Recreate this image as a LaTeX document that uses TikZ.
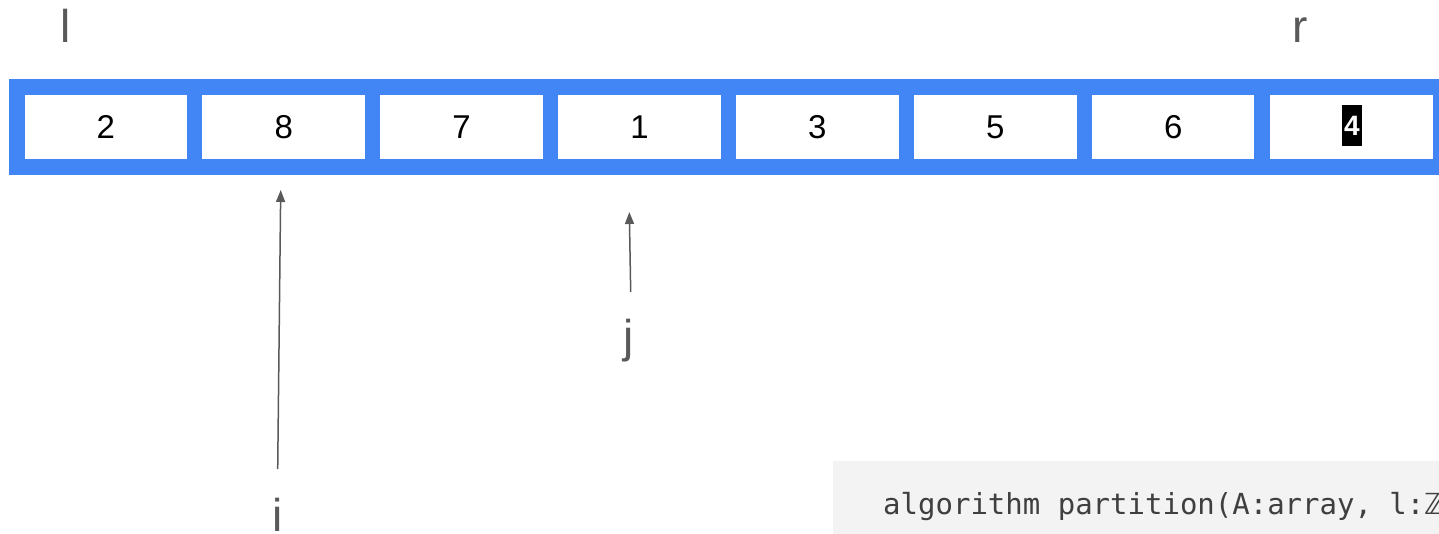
\documentclass[tikz,border=0pt]{standalone}
\usepackage{fontspec}
\setmainfont{Liberation Sans}
\newfontfamily\codefont{DejaVu Sans Mono}
\newfontfamily\symfont{DejaVu Sans}
\usetikzlibrary{arrows.meta}
\definecolor{gblue}{HTML}{4285F4}
\definecolor{lbl}{HTML}{595959}
\definecolor{codebg}{HTML}{F3F3F3}
\definecolor{codefg}{HTML}{3F3F3F}
\begin{document}
\begin{tikzpicture}[x=1pt,y=-1pt,
  cellbox/.style={fill=white, minimum width=162.5pt, minimum height=64pt, inner sep=0pt,
    font=\fontsize{33}{36}\selectfont},
  varlbl/.style={text=lbl, font=\fontsize{46}{50}\selectfont, anchor=base, inner sep=0pt},
  ptr/.style={draw=lbl, line width=1.5pt, -{Triangle[length=12pt,width=9pt]}}]
\useasboundingbox (0,0) rectangle (1439,534);
\fill[white] (0,0) rectangle (1439,534);
% array frame
\fill[gblue] (9,79) rectangle (1439,175);
\foreach \v [count=\k] in {2,8,7,1,3,5,6}
  \node[cellbox] (c\k) at ({105.8+177.9*(\k-1)},127) {\v};
\node[cellbox] (c8) at (1351.3,127) {};
\node[fill=black, text=white, minimum width=20pt, minimum height=41pt, inner sep=0pt,
  font=\fontsize{28}{30}\bfseries\selectfont] (piv) at (1352,126) {4};
% labels
\node[varlbl] (L) at (66,43) {l};
\node[varlbl] (R) at (1300,43) {r};
\node[varlbl] (J) at (629,352) {j};
\node[varlbl] (I) at (277.5,531) {i};
% pointers
\coordinate (ibot) at (277.7,469);
\coordinate (itop) at (280.7,190);
\coordinate (jbot) at (630.7,292);
\coordinate (jtop) at (629.3,212);
\draw[ptr] (ibot) -- (itop);
\draw[ptr] (jbot) -- (jtop);
% code box
\fill[codebg] (833,461) rectangle (1439,534);
\node[anchor=base west, inner sep=0pt, text=codefg, font=\fontsize{29}{32}\codefont] (code) at (883,514)
  {algorithm partition(A:array, l:{\symfont ℤ}};
\end{tikzpicture}
\end{document}
